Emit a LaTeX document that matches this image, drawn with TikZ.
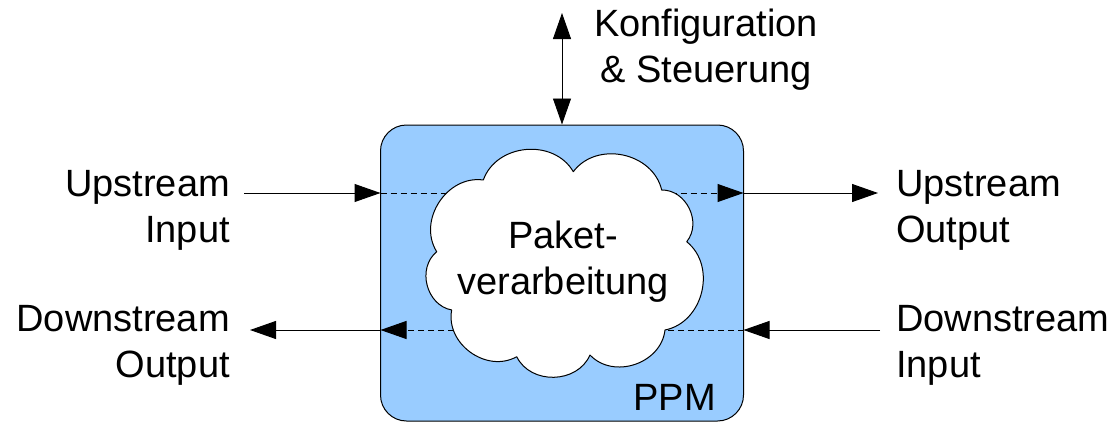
\documentclass[tikz,border=0pt]{standalone}
\usepackage{fontspec}
\setmainfont{Liberation Sans}
\usetikzlibrary{arrows.meta}
\definecolor{ppmblue}{HTML}{99CCFF}
\begin{document}
\begin{tikzpicture}[x=1pt,y=-1pt,
  lbl/.style={font=\fontsize{38}{46}\selectfont, inner sep=0pt},
  conn/.style={line width=1pt, -{Triangle[length=26pt,width=18pt]}},
  innerline/.style={conn, dash pattern=on 6pt off 4pt},
  puff/.style={bend left=65, looseness=1.1},
]
\useasboundingbox (0,0) rectangle (1112,423);
% box
\node[draw, fill=ppmblue, line width=1pt, rounded corners=26pt,
      minimum width=363pt, minimum height=296pt, inner sep=0pt] (box) at (562,273) {};
% ports
\coordinate (ulin)  at (380.5,193);
\coordinate (ulout) at (743.5,193);
\coordinate (dlin)  at (743.5,330);
\coordinate (dlout) at (380.5,330);
% inner dashed lines
\draw[innerline] (ulin) -- (ulout);
\draw[innerline] (dlin) -- (dlout);
% cloud
\filldraw[fill=white, draw=black, line width=1pt, line join=round]
  (483.3,180) to[puff] (573.3,171.7) to[puff] (661.7,190) to[puff] (686.7,241.7)
  to[puff] (665,330) to[puff] (590,355) to[puff] (516.7,356.7) to[puff] (451.7,310)
  to[puff] (436.7,251.7) to[puff] (483.3,180) -- cycle;
\node[lbl, align=center] (txt) at (563,262) {Paket-\\verarbeitung};
\node[lbl, anchor=base east] (ppm) at (716,410) {PPM};
% labels
\node[lbl, align=center, anchor=base] (cfg) at (706,82) {Konfiguration\\\& Steuerung};
\node[lbl, align=right, anchor=base east] (uin) at (230,242) {Upstream\\Input};
\node[lbl, align=right, anchor=base east] (dout) at (230,377) {Downstream\\Output};
\node[lbl, align=left, anchor=base west] (uout) at (896,242) {Upstream\\Output};
\node[lbl, align=left, anchor=base west] (din) at (896,377) {Downstream\\Input};
% outer connectors
\coordinate (uinS)  at (244,193);
\coordinate (uoutE) at (878,193);
\coordinate (dinS)  at (880,330);
\coordinate (doutE) at (250,330);
\coordinate (cfgT)  at (562,13);
\draw[conn] (uinS) -- (ulin);
\draw[conn] (ulout) -- (uoutE);
\draw[conn] (dinS) -- (dlin);
\draw[conn] (dlout) -- (doutE);
\draw[line width=0.9pt, {Triangle[length=26pt,width=18pt]}-{Triangle[length=26pt,width=18pt]}] (cfgT) -- (box.north);
\end{tikzpicture}
\end{document}
